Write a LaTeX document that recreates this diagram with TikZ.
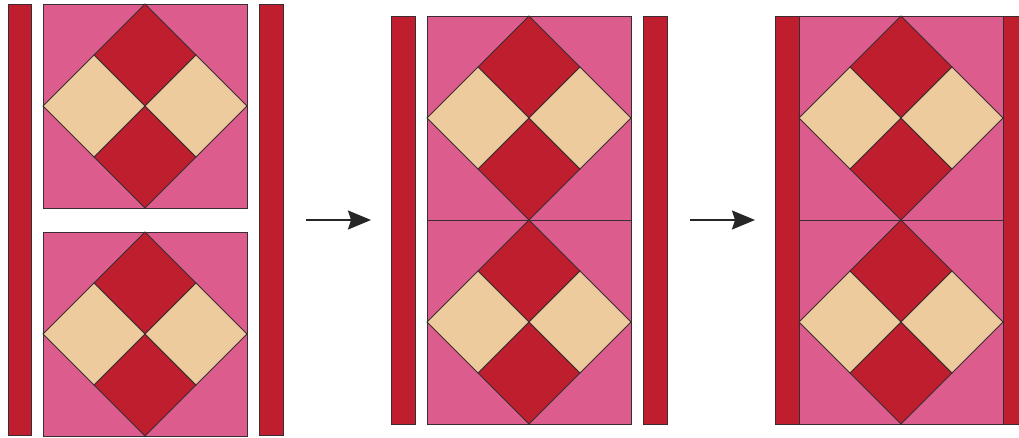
\documentclass[tikz,border=0pt]{standalone}
\usetikzlibrary{arrows.meta}
\definecolor{qpink}{HTML}{DC5C8E}
\definecolor{qred}{HTML}{BE1E2D}
\definecolor{qtan}{HTML}{EDCB9C}
\definecolor{qline}{HTML}{3A2C30}
\tikzset{
  patch/.style={draw=qline, line width=0.9pt, line join=miter},
  strip/.style={patch, fill=qred},
  flow/.style={line width=1.6pt, draw=black!85, -{Stealth[length=23pt, width=19pt, inset=3pt]}},
}
\newcommand{\qblock}[2]{%
  % #1 = left x, #2 = top y ; size 204
  \fill[qpink] (#1,#2) rectangle ++(204,204);
  \filldraw[patch, fill=qred] (#1+102,#2) -- (#1+153,#2+51) -- (#1+102,#2+102) -- (#1+51,#2+51) -- cycle;
  \filldraw[patch, fill=qred] (#1+102,#2+204) -- (#1+153,#2+153) -- (#1+102,#2+102) -- (#1+51,#2+153) -- cycle;
  \filldraw[patch, fill=qtan] (#1,#2+102) -- (#1+51,#2+51) -- (#1+102,#2+102) -- (#1+51,#2+153) -- cycle;
  \filldraw[patch, fill=qtan] (#1+204,#2+102) -- (#1+153,#2+51) -- (#1+102,#2+102) -- (#1+153,#2+153) -- cycle;
  \draw[patch] (#1,#2) rectangle ++(204,204);
}
\begin{document}
\begin{tikzpicture}[x=1pt,y=-1pt]
\useasboundingbox (0,0) rectangle (1019,438);
\clip (0,0) rectangle (1019,438);
% panel 1
\draw[strip] (8,4) rectangle (31.5,435.5);
\qblock{43}{4}
\qblock{43}{232}
\draw[strip] (259,4) rectangle (283,435.5);
% arrow 1
\coordinate (a1s) at (306,220);
\coordinate (a1e) at (371,220);
\draw[flow] (a1s) -- (a1e);
% panel 2
\draw[strip] (391,16) rectangle (415,424);
\qblock{427}{16}
\qblock{427}{220}
\draw[strip] (643,16) rectangle (667,424);
% arrow 2
\coordinate (a2s) at (690,220);
\coordinate (a2e) at (755,220);
\draw[flow] (a2s) -- (a2e);
% panel 3
\draw[strip] (775,16) rectangle (799,424);
\qblock{799}{16}
\qblock{799}{220}
\draw[strip] (1003,16) rectangle (1027,424);
\end{tikzpicture}
\end{document}
